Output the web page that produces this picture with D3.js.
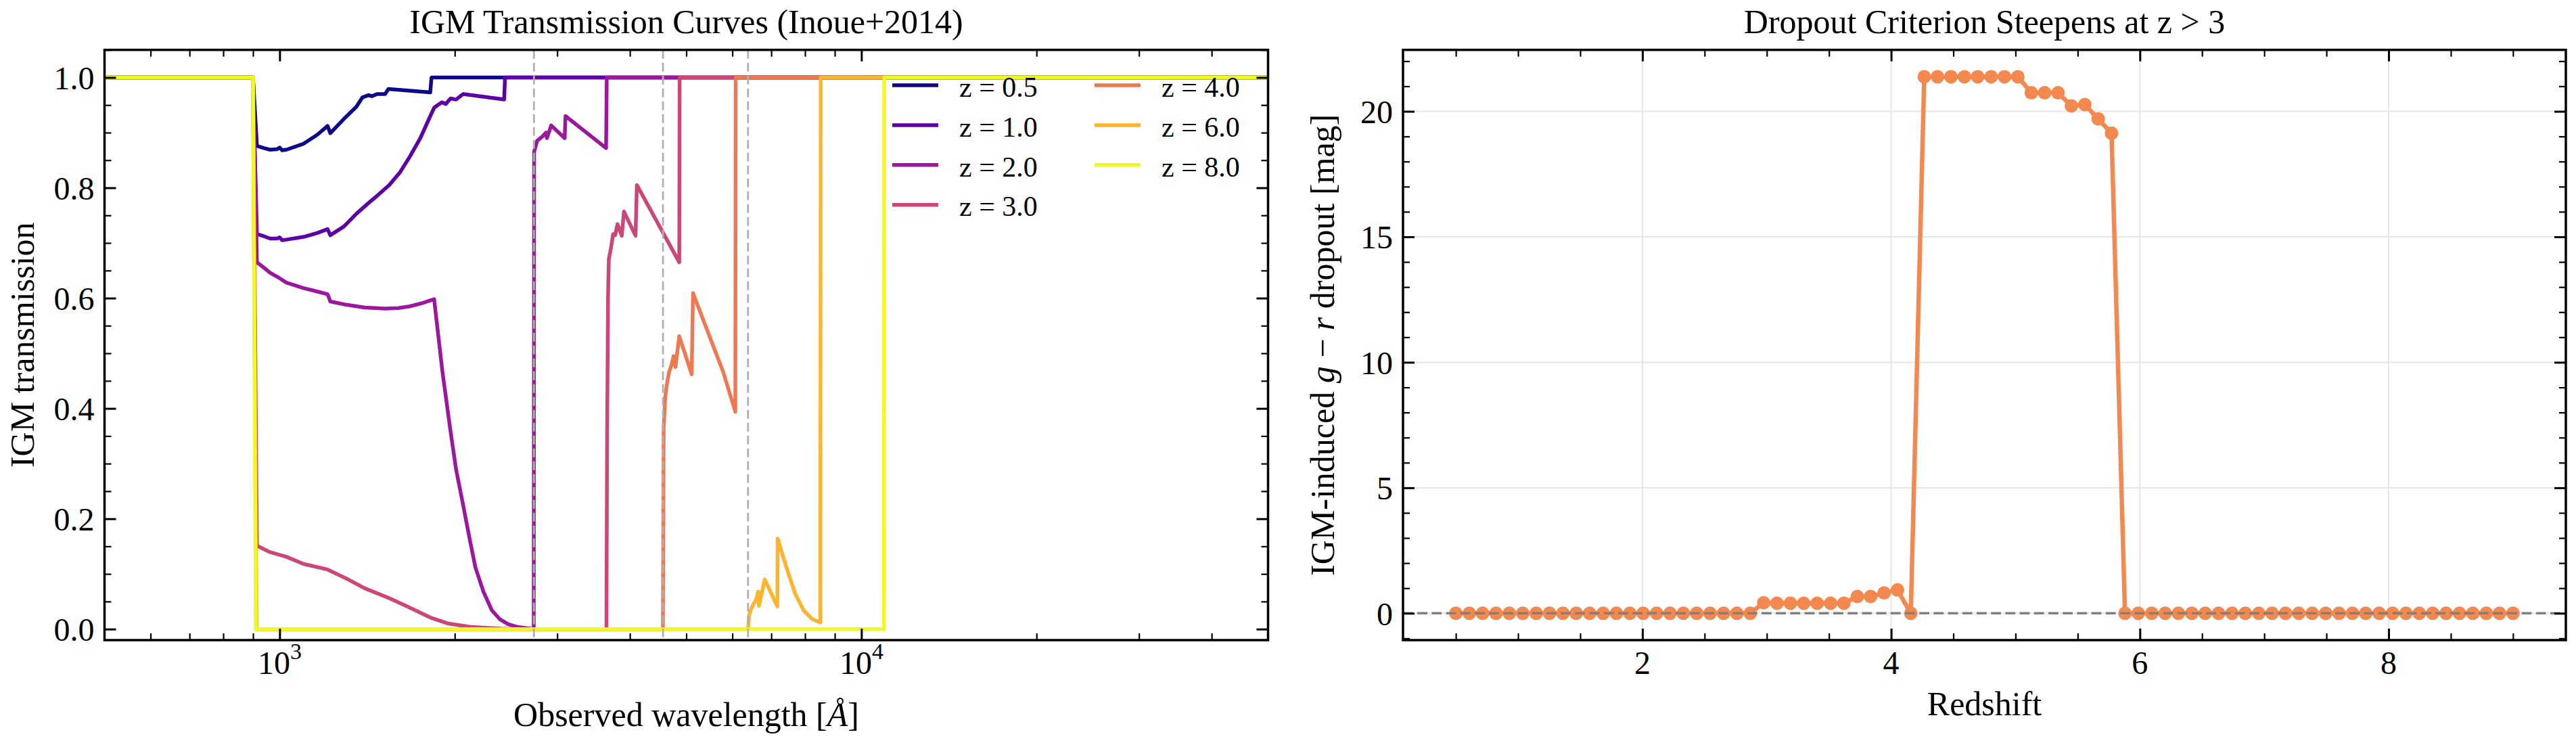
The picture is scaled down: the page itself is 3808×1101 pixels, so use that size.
<!DOCTYPE html>
<meta charset="utf-8">
<title>IGM transmission and dropout</title>
<script src="https://d3js.org/d3.v7.min.js"></script>
<style>
  body { margin: 0; background: #fff; }
  text { font-family: "Liberation Serif", "Times New Roman", serif; fill: #000; }
</style>
<body>
<script>
    // ---------- data ----------

    // left panel: observed wavelength [A] vs IGM transmission, one curve per redshift
    var redshifts = [0.5, 1.0, 2.0, 3.0, 4.0, 6.0, 8.0];

    var trans_z05 = [[500,1],[900,1],[914,0.876],[940,0.872],[963,0.869],[990,0.870],[1000,0.873],[1010,0.868],
        [1027,0.869],[1100,0.880],[1160,0.896],[1209,0.912],[1222,0.899],[1290,0.925],[1355,0.947],[1388,0.964],
        [1422,0.968],[1440,0.966],[1470,0.970],[1518,0.970],[1538,0.979],[1815,0.973],[1824,1],[50000,1]];
    var trans_z10 = [[500,1],[900,1],[914,0.716],[940,0.712],[963,0.708],[990,0.708],[1000,0.710],[1010,0.705],
        [1027,0.706],[1100,0.711],[1160,0.718],[1209,0.725],[1222,0.714],[1290,0.730],[1355,0.753],[1420,0.772],
        [1480,0.788],[1543,0.805],[1610,0.828],[1673,0.856],[1745,0.890],[1815,0.930],[1843,0.945],[1870,0.950],
        [1900,0.955],[1930,0.952],[1967,0.962],[2010,0.960],[2068,0.970],[2432,0.960],[2440,1],[50000,1]];
    var trans_z20 = [[500,1],[900,1],[914,0.665],[940,0.655],[963,0.646],[1000,0.636],[1027,0.628],[1100,0.618],
        [1160,0.612],[1209,0.607],[1222,0.594],[1300,0.588],[1400,0.583],[1518,0.581],[1600,0.582],[1673,0.585],
        [1760,0.591],[1843,0.598],[1905,0.466],[1967,0.358],[2010,0.290],[2068,0.224],[2120,0.165],[2170,0.112],
        [2240,0.068],[2316,0.034],[2390,0.018],[2470,0.009],[2560,0.004],[2690,0.001],[2734,0],[2738,0.865],
        [2770,0.885],[2830,0.893],[2870,0.900],[2880,0.890],[2930,0.913],[3090,0.890],[3100,0.930],[3640,0.872],
        [3650,1],[50000,1]];
    var trans_z30 = [[500,1],[900,1],[914,0.151],[960,0.140],[1027,0.131],[1100,0.118],[1209,0.108],[1300,0.092],
        [1400,0.074],[1543,0.056],[1650,0.042],[1815,0.021],[1950,0.010],[2130,0.004],[2400,0.001],[2700,0],
        [3645,0],[3655,0.35],[3668,0.60],[3680,0.671],[3710,0.690],[3743,0.716],[3773,0.714],[3808,0.734],
        [3873,0.713],[3907,0.757],[4090,0.713],[4112,0.805],[4863,0.665],[4870,1],[50000,1]];
    var trans_z40 = [[500,1],[900,1],[912,0],[4558,0],[4566,0.20],[4572,0.366],[4600,0.420],[4630,0.444],
        [4670,0.466],[4720,0.480],[4755,0.495],[4790,0.475],[4863,0.531],[5108,0.462],[5135,0.609],[5787,0.466],
        [6071,0.394],[6080,1],[50000,1]];
    var trans_z60 = [[500,1],[900,1],[912,0],[6384,0],[6414,0.026],[6451,0.034],[6520,0.045],[6570,0.050],
        [6610,0.058],[6647,0.068],[6665,0.042],[6821,0.090],[7170,0.041],[7178,0.164],[7430,0.112],[7688,0.065],
        [7955,0.034],[8235,0.018],[8500,0.012],[8512,1],[50000,1]];
    var trans_z80 = [[500,1],[900,1],[910,0],[10930,0],[10944,1],[50000,1]];

    var curves = [trans_z05, trans_z10, trans_z20, trans_z30, trans_z40, trans_z60, trans_z80];

    // dashed guides at 912*(1+z) for z = 2, 4, 6
    var limitLines = [2736, 4560, 6384];

    var xMajorL = [1000, 10000];
    var xMinorL = [600, 700, 800, 900, 2000, 3000, 4000, 5000, 6000, 7000, 8000, 9000, 20000, 30000, 40000];
    var yMajorL = [0, 0.2, 0.4, 0.6, 0.8, 1.0];

    // right panel: redshift grid and g-r dropout [mag]
    var zGrid = [0.500,0.608,0.715,0.823,0.930,1.038,1.146,1.253,1.361,1.468,
                 1.576,1.684,1.791,1.899,2.006,2.114,2.222,2.329,2.437,2.544,
                 2.652,2.759,2.867,2.975,3.082,3.190,3.297,3.405,3.513,3.620,
                 3.728,3.835,3.943,4.051,4.158,4.266,4.373,4.481,4.589,4.696,
                 4.804,4.911,5.019,5.127,5.234,5.342,5.449,5.557,5.665,5.772,
                 5.880,5.987,6.095,6.203,6.310,6.418,6.525,6.633,6.741,6.848,
                 6.956,7.063,7.171,7.278,7.386,7.494,7.601,7.709,7.816,7.924,
                 8.032,8.139,8.247,8.354,8.462,8.570,8.677,8.785,8.892,9.000];
    var dropout = [0,0,0,0,0,0,0,0,0,0,
                   0,0,0,0,0,0,0,0,0,0,
                   0,0,0,0.42,0.40,0.40,0.40,0.40,0.40,0.40,
                   0.67,0.67,0.81,0.93,0,21.38,21.38,21.38,21.38,21.38,
                   21.38,21.38,21.38,20.74,20.74,20.74,20.22,20.27,19.70,19.13,
                   0,0,0,0,0,0,0,0,0,0,
                   0,0,0,0,0,0,0,0,0,0,
                   0,0,0,0,0,0,0,0,0,0];

    var xMajorR = [2, 4, 6, 8];
    var yMajorR = [0, 5, 10, 15, 20];

    // ---------- layout ----------
    var W = 3808, H = 1101;
    var pTop = 73.7, pBottom = 946;
    var panelL = {x0: 154.5, x1: 1874.5};
    var panelR = {x0: 2074, x1: 3793};

    var svg = d3.select("body").append("svg")
            .attr("width", W)
            .attr("height", H);
    svg.append("rect").attr("width", W).attr("height", H).attr("fill", "#fff");

    var defs = svg.append("defs");
    defs.append("clipPath").attr("id", "clipL").append("rect")
            .attr("x", panelL.x0).attr("y", pTop).attr("width", panelL.x1 - panelL.x0).attr("height", pBottom - pTop);
    defs.append("clipPath").attr("id", "clipR").append("rect")
            .attr("x", panelR.x0).attr("y", pTop).attr("width", panelR.x1 - panelR.x0).attr("height", pBottom - pTop);

    // inward ticks on one side, no labels
    function ticks(g, axisFn, scale, values, size, width) {
        g.call(axisFn(scale).tickValues(values).tickSizeInner(-size).tickSizeOuter(0).tickFormat(""));
        g.select(".domain").remove();
        g.selectAll(".tick line").attr("stroke", "#000").attr("stroke-width", width);
    }

    function fourSides(scaleX, scaleY, box, xMaj, xMin, yMaj, yMin) {
        ticks(svg.append("g").attr("transform", "translate(0," + pBottom + ")"), d3.axisBottom, scaleX, xMaj, 17, 3);
        ticks(svg.append("g").attr("transform", "translate(0," + pBottom + ")"), d3.axisBottom, scaleX, xMin, 10, 2.2);
        ticks(svg.append("g").attr("transform", "translate(0," + pTop + ")"), d3.axisTop, scaleX, xMaj, 17, 3);
        ticks(svg.append("g").attr("transform", "translate(0," + pTop + ")"), d3.axisTop, scaleX, xMin, 10, 2.2);
        ticks(svg.append("g").attr("transform", "translate(" + box.x0 + ",0)"), d3.axisLeft, scaleY, yMaj, 17, 3);
        ticks(svg.append("g").attr("transform", "translate(" + box.x0 + ",0)"), d3.axisLeft, scaleY, yMin, 10, 2.2);
        ticks(svg.append("g").attr("transform", "translate(" + box.x1 + ",0)"), d3.axisRight, scaleY, yMaj, 17, 3);
        ticks(svg.append("g").attr("transform", "translate(" + box.x1 + ",0)"), d3.axisRight, scaleY, yMin, 10, 2.2);
        svg.append("rect")
                .attr("x", box.x0).attr("y", pTop)
                .attr("width", box.x1 - box.x0).attr("height", pBottom - pTop)
                .attr("fill", "none").attr("stroke", "#000").attr("stroke-width", 3.5);
    }

    // ---------- left panel ----------
    var xL = d3.scaleLog().domain([500, 50000]).range([panelL.x0, panelL.x1]);
    var yL = d3.scaleLinear().domain([-0.02, 1.05]).range([pBottom, pTop]);
    var colour = function(i) { return d3.interpolatePlasma(i / (redshifts.length - 1)); };

    var lineL = d3.line()
            .x(function(d) { return xL(d[0]); })
            .y(function(d) { return yL(d[1]); });

    var gL = svg.append("g").attr("clip-path", "url(#clipL)");
    gL.selectAll("path.curve")
            .data(curves)
            .join("path")
            .attr("class", "curve")
            .attr("fill", "none")
            .attr("stroke", function(d, i) { return colour(i); })
            .attr("stroke-width", 5.5)
            .attr("stroke-linejoin", "round")
            .attr("d", lineL);

    gL.selectAll("line.limit")
            .data(limitLines)
            .join("line")
            .attr("class", "limit")
            .attr("x1", function(d) { return xL(d); })
            .attr("x2", function(d) { return xL(d); })
            .attr("y1", pTop).attr("y2", pBottom)
            .attr("stroke", "#b0b0b0")
            .attr("stroke-width", 2.8)
            .attr("stroke-dasharray", "13,6");

    var yMinorL = d3.range(0.05, 1.06, 0.05).filter(function(v) { return Math.abs(v * 5 - Math.round(v * 5)) > 1e-6; });
    fourSides(xL, yL, panelL, xMajorL, xMinorL, yMajorL, yMinorL);

    // tick labels
    svg.selectAll("text.ylabL")
            .data(yMajorL)
            .join("text")
            .attr("class", "ylabL")
            .attr("x", panelL.x0 - 15)
            .attr("y", function(d) { return yL(d); })
            .attr("dy", "0.36em")
            .attr("text-anchor", "end")
            .style("font-size", "48px")
            .text(function(d) { return d.toFixed(1); });

    var xl = svg.selectAll("text.xlabL")
            .data(xMajorL)
            .join("text")
            .attr("class", "xlabL")
            .attr("x", function(d) { return xL(d); })
            .attr("y", 996)
            .attr("text-anchor", "middle")
            .style("font-size", "48px");
    xl.append("tspan").text("10");
    xl.append("tspan").attr("dy", -22).style("font-size", "34px")
            .text(function(d) { return Math.round(Math.log10(d)); });

    // legend, two columns
    var leg = svg.append("g");
    redshifts.forEach(function(z, i) {
        var col = i < 4 ? 0 : 1, row = i < 4 ? i : i - 4;
        var lx = 1319 + col * 299, ly = 126 + row * 58.9;
        leg.append("line")
                .attr("x1", lx).attr("x2", lx + 68)
                .attr("y1", ly).attr("y2", ly)
                .attr("stroke", colour(i)).attr("stroke-width", 5.5);
        leg.append("text")
                .attr("x", lx + 99).attr("y", ly + 16.7)
                .style("font-size", "42px")
                .text("z = " + z.toFixed(1));
    });

    svg.append("text")
            .attr("x", (panelL.x0 + panelL.x1) / 2).attr("y", 49)
            .attr("text-anchor", "middle").style("font-size", "50px")
            .text("IGM Transmission Curves (Inoue+2014)");

    var xt = svg.append("text")
            .attr("x", (panelL.x0 + panelL.x1) / 2).attr("y", 1073)
            .attr("text-anchor", "middle").style("font-size", "50px");
    xt.append("tspan").text("Observed wavelength [");
    xt.append("tspan").style("font-style", "italic").text("Å");
    xt.append("tspan").text("]");

    svg.append("text")
            .attr("transform", "translate(50," + (pTop + pBottom) / 2 + ") rotate(-90)")
            .attr("text-anchor", "middle").style("font-size", "50px")
            .text("IGM transmission");

    // ---------- right panel ----------
    var xR = d3.scaleLinear().domain([0.075, 9.425]).range([panelR.x0, panelR.x1]);
    var yR = d3.scaleLinear().domain([-1.07, 22.45]).range([pBottom, pTop]);

    var pts = zGrid.map(function(z, i) { return {z: z, v: dropout[i]}; });

    // grid
    svg.append("g").selectAll("line")
            .data(xMajorR)
            .join("line")
            .attr("x1", function(d) { return xR(d); }).attr("x2", function(d) { return xR(d); })
            .attr("y1", pTop).attr("y2", pBottom)
            .attr("stroke", "#e6e6e6").attr("stroke-width", 2);
    svg.append("g").selectAll("line")
            .data(yMajorR)
            .join("line")
            .attr("x1", panelR.x0).attr("x2", panelR.x1)
            .attr("y1", function(d) { return yR(d); }).attr("y2", function(d) { return yR(d); })
            .attr("stroke", "#e6e6e6").attr("stroke-width", 2);

    var gR = svg.append("g").attr("clip-path", "url(#clipR)");
    var orange = "#f3894f";

    gR.append("path")
            .datum(pts)
            .attr("fill", "none")
            .attr("stroke", orange)
            .attr("stroke-width", 6.5)
            .attr("stroke-linejoin", "round")
            .attr("d", d3.line()
                    .x(function(d) { return xR(d.z); })
                    .y(function(d) { return yR(d.v); }));

    gR.selectAll("circle")
            .data(pts)
            .join("circle")
            .attr("cx", function(d) { return xR(d.z); })
            .attr("cy", function(d) { return yR(d.v); })
            .attr("r", 10)
            .attr("fill", orange);

    gR.append("line")
            .attr("x1", panelR.x0).attr("x2", panelR.x1)
            .attr("y1", yR(0)).attr("y2", yR(0))
            .attr("stroke", "#808080")
            .attr("stroke-width", 3.5)
            .attr("stroke-dasharray", "14.8,6.4");

    var xMinorR = d3.range(0.5, 9.01, 0.5).filter(function(v) { return v % 2 !== 0; });
    var yMinorR = d3.range(-1, 23, 1).filter(function(v) { return v % 5 !== 0; });
    fourSides(xR, yR, panelR, xMajorR, xMinorR, yMajorR, yMinorR);

    svg.selectAll("text.xlabR")
            .data(xMajorR)
            .join("text")
            .attr("class", "xlabR")
            .attr("x", function(d) { return xR(d); })
            .attr("y", 995.5)
            .attr("text-anchor", "middle")
            .style("font-size", "48px")
            .text(function(d) { return d; });

    svg.selectAll("text.ylabR")
            .data(yMajorR)
            .join("text")
            .attr("class", "ylabR")
            .attr("x", panelR.x0 - 15)
            .attr("y", function(d) { return yR(d); })
            .attr("dy", "0.36em")
            .attr("text-anchor", "end")
            .style("font-size", "48px")
            .text(function(d) { return d; });

    svg.append("text")
            .attr("x", (panelR.x0 + panelR.x1) / 2).attr("y", 49)
            .attr("text-anchor", "middle").style("font-size", "50px")
            .text("Dropout Criterion Steepens at z > 3");

    svg.append("text")
            .attr("x", (panelR.x0 + panelR.x1) / 2).attr("y", 1057)
            .attr("text-anchor", "middle").style("font-size", "50px")
            .text("Redshift");

    var yt = svg.append("text")
            .attr("transform", "translate(1972," + (pTop + pBottom) / 2 + ") rotate(-90)")
            .attr("text-anchor", "middle").style("font-size", "50px");
    yt.append("tspan").text("IGM-induced ");
    yt.append("tspan").style("font-style", "italic").text("g");
    yt.append("tspan").text(" \u2212 ");
    yt.append("tspan").style("font-style", "italic").text("r");
    yt.append("tspan").text(" dropout [mag]");
</script>
</body>
